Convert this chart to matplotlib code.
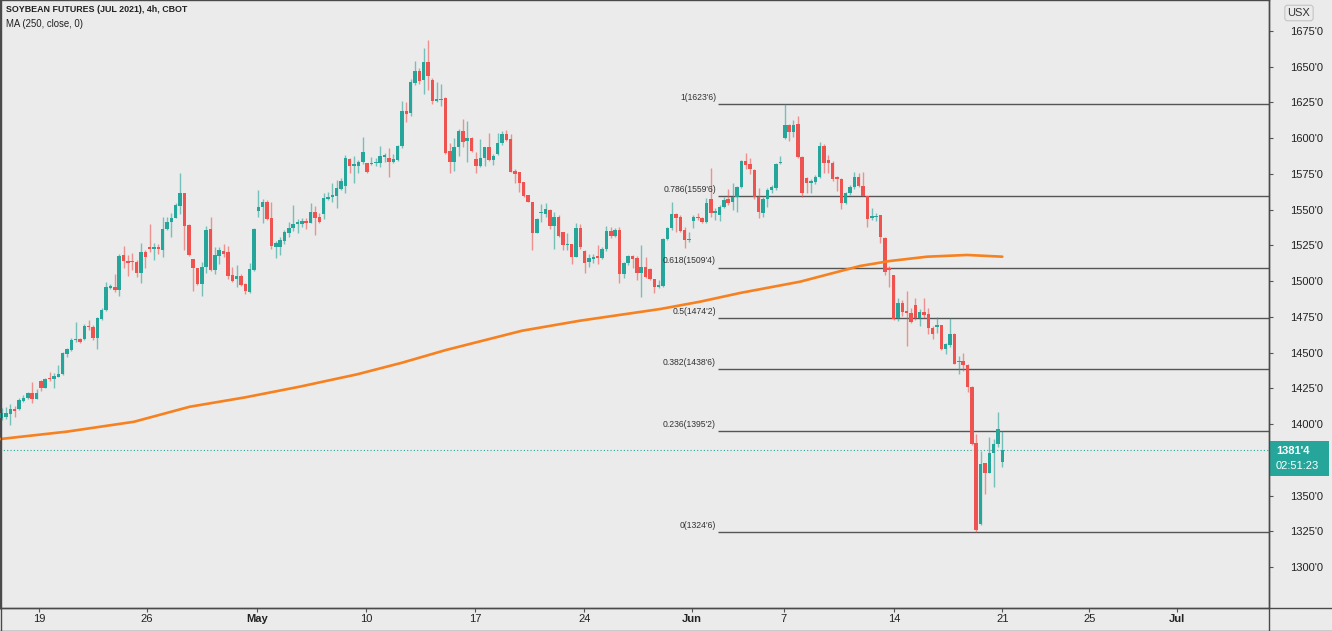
import numpy as np
import matplotlib
matplotlib.use('Agg')
import matplotlib.pyplot as plt
from matplotlib.lines import Line2D
from matplotlib.patches import Rectangle

# 4h candles, soybean futures Jul 2021 (price in cents)
opens = [1404.0, 1404.7, 1407.0, 1410.5, 1410.3, 1416.4, 1418.5, 1421.5, 1417.5, 1429.9,
         1425.5, 1432.0, 1431.8, 1433.2, 1435.0, 1449.0, 1451.8, 1458.6, 1459.3, 1459.5,
         1468.8, 1468.1, 1460.0, 1473.5, 1479.8, 1495.2, 1495.9, 1494.0, 1518.3, 1514.3,
         1513.6, 1513.4, 1505.9, 1520.6, 1524.1, 1522.7, 1524.1, 1521.8, 1536.5, 1541.6,
         1544.4, 1552.6, 1561.4, 1539.3, 1515.5, 1509.0, 1497.8, 1510.1, 1536.3, 1507.8,
         1517.8, 1521.1, 1520.2, 1504.3, 1501.3, 1503.8, 1498.0, 1492.6, 1507.8, 1549.1,
         1551.7, 1555.6, 1543.9, 1524.1, 1524.1, 1528.3, 1533.9, 1537.4, 1540.0, 1540.0,
         1542.3, 1540.9, 1548.4, 1544.7, 1547.0, 1557.5, 1558.6, 1559.8, 1564.5, 1566.8,
         1585.5, 1580.6, 1580.8, 1583.1, 1582.4, 1581.7, 1582.4, 1582.9, 1586.6, 1586.4,
         1583.6, 1584.7, 1594.5, 1619.0, 1617.9, 1638.9, 1647.2, 1640.7, 1653.5, 1640.7,
         1626.3, 1626.8, 1627.9, 1591.0, 1583.6, 1594.1, 1605.0, 1598.3, 1599.9, 1585.2,
         1580.8, 1586.4, 1594.1, 1584.8, 1588.7, 1596.9, 1602.7, 1599.2, 1577.0, 1576.6,
         1569.6, 1560.3, 1555.6, 1533.9, 1547.4, 1547.0, 1549.8, 1538.6, 1544.6, 1534.6,
         1525.0, 1526.0, 1517.1, 1537.4, 1521.3, 1513.1, 1515.5, 1517.6, 1516.0, 1522.3,
         1535.1, 1531.6, 1535.8, 1505.0, 1512.5, 1517.6, 1515.9, 1505.5, 1510.1, 1508.3,
         1501.3, 1495.7, 1496.6, 1529.2, 1536.9, 1546.7, 1545.1, 1535.8, 1528.6, 1542.3,
         1545.1, 1543.9, 1541.6, 1557.2, 1547.9, 1546.3, 1551.6, 1557.2, 1555.6, 1559.1,
         1565.6, 1584.3, 1581.9, 1577.7, 1558.6, 1547.9, 1557.2, 1563.5, 1564.9, 1582.4,
         1599.9, 1609.2, 1604.6, 1609.9, 1587.1, 1571.9, 1568.9, 1569.1, 1572.6, 1594.5,
         1584.7, 1582.9, 1572.6, 1571.2, 1554.9, 1561.4, 1565.6, 1572.6, 1566.6, 1559.6,
         1544.4, 1544.6, 1546.3, 1530.0, 1509.4, 1504.3, 1474.0, 1484.5, 1479.3, 1477.9,
         1483.3, 1474.4, 1478.6, 1477.0, 1467.4, 1467.7, 1469.3, 1452.3, 1455.3, 1463.0,
         1443.2, 1444.1, 1441.3, 1425.7, 1386.5, 1330.1, 1372.5, 1366.0, 1380.0, 1386.1,
         1373.5]
highs = [1411.0, 1411.7, 1414.0, 1412.6, 1418.0, 1420.3, 1422.7, 1429.7, 1424.3, 1430.8,
         1432.0, 1436.2, 1435.5, 1441.3, 1450.6, 1453.5, 1460.0, 1471.2, 1460.0, 1469.8,
         1472.8, 1469.3, 1475.2, 1481.0, 1499.6, 1498.0, 1504.8, 1518.8, 1524.6, 1518.3,
         1519.9, 1514.8, 1526.4, 1521.8, 1540.0, 1526.4, 1525.7, 1545.1, 1545.1, 1547.4,
         1554.9, 1575.4, 1561.9, 1539.7, 1515.5, 1509.0, 1513.2, 1538.6, 1544.7, 1524.1,
         1524.1, 1526.0, 1524.6, 1510.1, 1511.3, 1505.0, 1498.5, 1512.9, 1537.0, 1563.8,
         1557.5, 1556.8, 1555.6, 1528.3, 1530.7, 1535.8, 1541.2, 1553.3, 1543.2, 1544.0,
         1544.0, 1554.4, 1552.8, 1547.9, 1561.9, 1562.6, 1568.4, 1570.8, 1571.9, 1588.3,
         1585.9, 1587.6, 1584.8, 1600.6, 1582.9, 1587.1, 1585.9, 1594.5, 1589.4, 1592.9,
         1588.7, 1595.2, 1626.3, 1625.6, 1641.2, 1654.0, 1648.9, 1662.9, 1668.7, 1641.9,
         1639.6, 1637.9, 1629.1, 1596.4, 1599.9, 1606.2, 1613.2, 1612.3, 1600.6, 1590.1,
         1599.2, 1594.1, 1603.9, 1588.7, 1603.4, 1605.0, 1605.7, 1602.9, 1578.2, 1576.6,
         1569.6, 1560.3, 1555.6, 1543.9, 1553.9, 1554.9, 1550.2, 1548.6, 1546.3, 1534.6,
         1533.4, 1526.0, 1540.9, 1539.7, 1521.8, 1519.0, 1519.0, 1525.3, 1524.1, 1538.6,
         1538.1, 1536.9, 1538.1, 1513.6, 1518.3, 1518.3, 1517.6, 1525.3, 1517.1, 1509.0,
         1501.3, 1500.8, 1529.9, 1538.1, 1555.6, 1547.4, 1546.3, 1537.6, 1534.6, 1546.3,
         1547.4, 1545.1, 1557.9, 1578.9, 1550.9, 1553.3, 1558.6, 1564.2, 1568.4, 1566.6,
         1584.7, 1589.9, 1585.9, 1578.2, 1564.9, 1558.6, 1564.9, 1567.3, 1582.9, 1587.6,
         1623.75, 1609.9, 1612.7, 1615.5, 1587.6, 1572.6, 1571.2, 1574.3, 1597.6, 1595.9,
         1588.2, 1584.3, 1573.5, 1571.9, 1562.6, 1567.3, 1576.6, 1575.9, 1576.6, 1559.6,
         1550.9, 1547.4, 1546.3, 1530.7, 1510.6, 1504.3, 1487.9, 1486.8, 1493.3, 1481.0,
         1488.0, 1480.3, 1488.0, 1481.0, 1468.6, 1474.7, 1469.3, 1457.0, 1474.0, 1463.5,
         1447.6, 1449.5, 1442.0, 1426.6, 1393.1, 1381.4, 1372.5, 1391.2, 1389.3, 1408.4,
         1394.9]
lows = [1402.9, 1403.3, 1399.4, 1405.2, 1409.9, 1415.7, 1417.3, 1414.5, 1417.3, 1423.1,
        1425.0, 1430.4, 1425.5, 1433.2, 1434.3, 1447.2, 1451.4, 1457.7, 1457.0, 1458.8,
        1465.8, 1458.8, 1452.3, 1472.8, 1479.3, 1494.7, 1492.6, 1489.6, 1509.0, 1503.6,
        1507.8, 1503.1, 1498.9, 1509.0, 1520.6, 1514.8, 1519.0, 1516.6, 1535.8, 1530.7,
        1543.9, 1547.0, 1521.8, 1517.9, 1493.3, 1497.3, 1489.9, 1505.5, 1507.3, 1505.0,
        1512.0, 1517.1, 1501.3, 1499.6, 1495.7, 1496.6, 1491.0, 1491.9, 1507.3, 1545.1,
        1540.9, 1542.8, 1522.3, 1516.0, 1518.3, 1526.0, 1530.7, 1535.3, 1533.5, 1537.7,
        1536.3, 1540.4, 1532.3, 1540.4, 1543.3, 1556.8, 1555.6, 1550.9, 1563.8, 1561.9,
        1575.9, 1568.4, 1575.4, 1581.9, 1575.9, 1581.3, 1580.8, 1579.6, 1583.6, 1573.1,
        1582.9, 1584.0, 1592.9, 1611.6, 1615.5, 1637.2, 1637.9, 1630.9, 1633.7, 1623.9,
        1625.6, 1622.5, 1588.9, 1575.4, 1577.3, 1587.6, 1594.1, 1583.6, 1590.6, 1575.9,
        1580.1, 1580.5, 1584.3, 1581.3, 1588.2, 1595.2, 1598.0, 1576.6, 1568.9, 1562.6,
        1559.1, 1555.1, 1521.8, 1533.5, 1541.6, 1544.6, 1536.2, 1522.3, 1531.1, 1521.8,
        1521.8, 1512.0, 1516.6, 1522.5, 1505.9, 1510.1, 1512.5, 1511.7, 1515.2, 1521.3,
        1529.9, 1531.1, 1498.9, 1502.0, 1511.3, 1508.9, 1500.8, 1489.1, 1502.0, 1500.8,
        1491.5, 1495.0, 1496.1, 1528.8, 1535.8, 1534.6, 1534.6, 1523.0, 1527.6, 1537.0,
        1542.8, 1540.4, 1540.9, 1545.1, 1542.8, 1542.3, 1550.9, 1553.3, 1549.8, 1548.6,
        1564.9, 1578.2, 1574.9, 1557.2, 1543.9, 1545.1, 1552.1, 1561.4, 1563.8, 1582.0,
        1599.2, 1598.3, 1601.1, 1585.9, 1559.1, 1561.9, 1561.9, 1567.9, 1571.9, 1575.4,
        1575.4, 1570.3, 1563.3, 1550.2, 1554.0, 1560.3, 1564.2, 1565.6, 1559.6, 1538.1,
        1542.8, 1542.3, 1526.9, 1504.3, 1496.1, 1472.8, 1472.3, 1475.6, 1454.6, 1470.9,
        1472.8, 1468.6, 1474.0, 1463.0, 1459.5, 1464.0, 1451.8, 1449.0, 1454.2, 1442.0,
        1435.0, 1437.4, 1422.7, 1385.4, 1324.75, 1329.4, 1351.1, 1365.5, 1355.8, 1384.2,
        1370.2]
closes = [1407.5, 1407.5, 1410.3, 1409.4, 1416.8, 1418.5, 1422.0, 1417.5, 1421.5, 1425.5,
          1431.5, 1431.3, 1433.6, 1434.8, 1449.5, 1452.3, 1458.8, 1459.3, 1457.7, 1468.8,
          1468.1, 1460.0, 1474.0, 1479.8, 1495.7, 1496.6, 1494.0, 1517.6, 1514.3, 1512.9,
          1513.2, 1505.9, 1520.2, 1516.6, 1522.5, 1524.1, 1522.3, 1536.5, 1541.6, 1544.4,
          1553.3, 1561.9, 1538.8, 1518.1, 1509.0, 1497.8, 1510.1, 1535.8, 1507.8, 1518.3,
          1521.8, 1519.0, 1503.6, 1500.1, 1503.6, 1497.3, 1493.1, 1508.3, 1536.3, 1552.1,
          1555.6, 1543.3, 1524.8, 1526.4, 1528.8, 1534.2, 1537.4, 1540.0, 1541.6, 1541.8,
          1540.9, 1548.4, 1544.0, 1541.6, 1558.2, 1559.1, 1560.3, 1564.9, 1570.1, 1585.9,
          1580.6, 1582.0, 1583.1, 1590.6, 1576.6, 1582.9, 1583.6, 1587.6, 1588.3, 1583.6,
          1585.5, 1594.5, 1619.0, 1616.9, 1639.6, 1647.2, 1640.3, 1653.5, 1643.5, 1626.3,
          1627.4, 1627.5, 1589.9, 1583.6, 1594.1, 1605.0, 1597.6, 1600.4, 1591.3, 1580.8,
          1586.4, 1594.1, 1584.8, 1587.8, 1596.9, 1602.7, 1598.7, 1576.6, 1575.0, 1568.9,
          1559.6, 1555.1, 1533.9, 1543.2, 1548.0, 1550.5, 1538.6, 1544.6, 1531.6, 1525.3,
          1525.5, 1517.1, 1537.4, 1524.1, 1512.9, 1515.9, 1517.1, 1516.0, 1522.3, 1535.1,
          1531.6, 1535.8, 1505.0, 1512.5, 1517.6, 1515.2, 1505.5, 1510.1, 1503.1, 1501.3,
          1496.1, 1497.3, 1529.2, 1536.9, 1546.7, 1543.9, 1535.3, 1528.8, 1528.8, 1545.1,
          1543.9, 1541.6, 1554.9, 1547.9, 1549.1, 1552.1, 1556.8, 1554.9, 1559.1, 1565.6,
          1584.3, 1581.3, 1578.2, 1558.6, 1548.6, 1557.2, 1563.8, 1565.6, 1581.9, 1582.9,
          1609.2, 1604.6, 1609.2, 1586.6, 1561.9, 1568.4, 1570.3, 1572.6, 1594.5, 1582.9,
          1582.4, 1571.2, 1571.2, 1554.9, 1561.4, 1565.6, 1572.6, 1566.6, 1559.6, 1543.2,
          1545.6, 1545.6, 1530.7, 1506.5, 1507.8, 1473.8, 1484.9, 1478.6, 1477.9, 1471.6,
          1474.4, 1478.6, 1476.3, 1467.0, 1463.0, 1469.3, 1452.3, 1456.0, 1463.0, 1442.0,
          1443.6, 1441.3, 1425.7, 1386.1, 1326.0, 1372.1, 1366.0, 1379.5, 1386.1, 1396.8,
          1381.5]

# MA(250, close) at some bar positions
ma_bar = [-0.39, 15.0, 30.4, 43.2, 56.0, 68.4, 81.7, 92.0, 102.1, 119.6, 132.9,
          151.4, 160.5, 169.7, 183.5, 197.3, 204.2, 212.7, 221.9, 230.0]
ma_val = [1389.5, 1394.7, 1401.6, 1412.1, 1418.7, 1426.1, 1434.8, 1442.9, 1451.8, 1465.3,
          1472.3, 1480.5, 1485.6, 1491.7, 1499.6, 1510.6, 1514.1, 1517.1, 1518.3, 1517.1]

fib_ratios = [1, 0.786, 0.618, 0.5, 0.382, 0.236, 0]
fib_levels = [1623.75, 1559.75, 1509.5, 1474.25, 1438.75, 1395.25, 1324.75]

# 1375'0 sits under the last-price tag, so it is not shown
price_ticks = [1300, 1325, 1350, 1400, 1425, 1450, 1475, 1500, 1525, 1550,
               1575, 1600, 1625, 1650, 1675]
date_pos = [8.6, 33.4, 58.7, 83.7, 108.8, 133.9, 158.7, 179.8, 205.1, 230.0, 250.0, 270.2]
date_labels = ['19', '26', 'May', '10', '17', '24', 'Jun', '7', '14', '21', '25', 'Jul']

last_price = 1381.5
countdown = '02:51:23'

UP = '#26a69a'
DOWN = '#ef5350'
BG = '#ebebeb'
EDGE = '#4a4a4a'
FONT = ['Liberation Sans', 'DejaVu Sans']
W, H = 1332, 631


def fmt(p):
    whole = int(p)
    return "%d'%d" % (whole, int(round((p - whole) * 8)))


fig = plt.figure(figsize=(W / 100, H / 100), dpi=100, facecolor=BG)
ax = fig.add_axes([0, 23 / H, 1269 / W, 608 / H])
ax.set_facecolor(BG)

o = np.array(opens)
c = np.array(closes)
hi = np.array(highs)
lo = np.array(lows)
x = np.arange(len(o))
up = c >= o
col = np.where(up, UP, DOWN)

ax.vlines(x, lo, hi, colors=col, lw=1, alpha=0.6, zorder=2)
body = np.maximum(np.abs(c - o), 0.7)
ax.bar(x, body, bottom=np.minimum(o, c), width=0.8, color=col, lw=0, zorder=3)

ax.plot(ma_bar, ma_val, color='#f7801f', lw=1.9, solid_capstyle='round',
        solid_joinstyle='round', zorder=4)

xmin, xmax = -0.39, 291.3
for r, lev in zip(fib_ratios, fib_levels):
    ax.hlines(lev, 164.7, xmax, color='#555555', lw=1, zorder=1)
    ax.annotate('%g(%s)' % (r, fmt(lev)), (164.2, lev), xytext=(0, 1.5),
                textcoords='offset points', ha='right', va='bottom',
                fontsize=6.2, color='#333333', family=FONT, zorder=5)

ax.axhline(last_price, color=UP, lw=0.8, ls=(0, (1, 2)), zorder=1)

ax.set_xlim(xmin, xmax)
ax.set_ylim(1271.3, 1696.7)

ax.yaxis.tick_right()
ax.set_yticks(price_ticks)
ax.set_yticklabels([fmt(p) for p in price_ticks])
ax.tick_params(axis='y', length=3, width=0.8, pad=12, labelsize=8,
               colors='#555555', labelcolor='#222222')
ax.set_xticks(date_pos)
ax.set_xticklabels(date_labels)
ax.tick_params(axis='x', length=3, width=0.8, pad=1.5, labelsize=8,
               colors='#555555', labelcolor='#222222')
for t in ax.get_xticklabels() + ax.get_yticklabels():
    t.set_family(FONT)
for t in ax.get_xticklabels():
    if t.get_text() in ('May', 'Jun', 'Jul'):
        t.set_fontweight('bold')

for s in ax.spines.values():
    s.set_color(EDGE)
    s.set_linewidth(1)

# outer frame and the bottom/right axis cells
fig.add_artist(Line2D([0, 1], [23 / H, 23 / H], color=EDGE, lw=1))
fig.add_artist(Line2D([1269 / W, 1269 / W], [0, 1], color=EDGE, lw=1))
fig.add_artist(Line2D([0, 1], [0.5 / H, 0.5 / H], color=EDGE, lw=1))
fig.add_artist(Line2D([0.5 / W, 0.5 / W], [0, 1], color=EDGE, lw=1))

# last price tag
fig.add_artist(Rectangle((1269 / W, 1 - 476 / H), 60 / W, 35 / H, color=UP, lw=0))
fig.text(1276 / W, 1 - 451 / H, fmt(last_price), color='white', fontsize=8,
         fontweight='bold', va='center', family=FONT)
fig.text(1276 / W, 1 - 466 / H, countdown, color='white', fontsize=8,
         va='center', family=FONT)

fig.text(1299 / W, 1 - 13 / H, 'USX', ha='center', va='center', fontsize=8,
         color='#333333', family=FONT,
         bbox=dict(boxstyle='round,pad=0.25', fc=BG, ec='#c4c4c4', lw=0.8))

fig.text(6 / W, 1 - 9 / H, 'SOYBEAN FUTURES (JUL 2021), 4h, CBOT', fontsize=6.4,
         fontweight='bold', color='#222222', va='center', family=FONT)
fig.text(6 / W, 1 - 24 / H, 'MA (250, close, 0)', fontsize=6.9, color='#222222',
         va='center', family=FONT)

fig.savefig('out.png', dpi=100, facecolor=BG)
